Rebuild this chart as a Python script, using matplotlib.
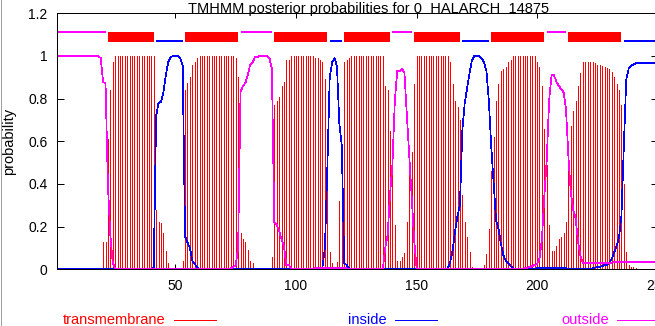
import matplotlib
matplotlib.use("Agg")
import numpy as np
import matplotlib.pyplot as plt
from matplotlib.lines import Line2D

plt.rcParams['font.family'] = ['Liberation Sans', 'DejaVu Sans']

title = "TMHMM posterior probabilities for 0  HALARCH  14875"
seq_len = 250

# posterior probabilities per residue 1..250
tm_prob = [
    0, 0, 0, 0, 0, 0, 0, 0, 0, 0,                                   # 1
    0, 0, 0, 0, 0, 0, 0, 0, 0.005, 0.13,                            # 11
    0.13, 0.61, 0.84, 0.97, 1.0, 1.0, 1.0, 1.0, 1.0, 1.0,           # 21
    1.0, 1.0, 1.0, 1.0, 1.0, 1.0, 1.0, 1.0, 1.0, 1.0,               # 31
    1.0, 0.28, 0.22, 0.215, 0.17, 0.086, 0.03, 0.005, 0, 0,         # 41
    0, 0.005, 0.04, 0.84, 0.875, 0.9, 0.96, 0.97, 0.99, 1.0,        # 51
    1.0, 1.0, 1.0, 1.0, 1.0, 1.0, 1.0, 1.0, 1.0, 1.0,               # 61
    1.0, 1.0, 1.0, 1.0, 0.99, 0.9, 0.17, 0.14, 0.127, 0.09,         # 71
    0.04, 0.03, 0.005, 0.005, 0, 0, 0, 0, 0.005, 0.06,              # 81
    0.77, 0.79, 0.81, 0.86, 0.88, 0.98, 0.98, 1.0, 1.0, 1.0,        # 91
    1.0, 1.0, 1.0, 1.0, 1.0, 1.0, 1.0, 0.99, 0.99, 0.98,            # 101
    0.97, 0.89, 0.53, 0.08, 0.03, 0.01, 0.036, 0.32, 0.42, 0.97,    # 111
    0.98, 0.99, 1.0, 1.0, 1.0, 1.0, 1.0, 1.0, 1.0, 1.0,             # 121
    1.0, 1.0, 1.0, 1.0, 1.0, 1.0, 0.86, 0.84, 0.65, 0.51,           # 131
    0.21, 0.04, 0.04, 0.06, 0.075, 0.22, 0.47, 0.55, 0.87, 1.0,     # 141
    1.0, 1.0, 1.0, 1.0, 1.0, 1.0, 1.0, 1.0, 1.0, 1.0,               # 151
    1.0, 1.0, 1.0, 0.97, 0.87, 0.79, 0.76, 0.7, 0.35, 0.22,         # 161
    0.15, 0.08, 0.01, 0, 0, 0, 0, 0.02, 0.07, 0.19,                 # 171
    0.46, 0.62, 0.79, 0.87, 0.93, 0.94, 0.95, 0.97, 0.98, 1.0,      # 181
    1.0, 1.0, 1.0, 1.0, 1.0, 1.0, 1.0, 1.0, 1.0, 0.97,              # 191
    0.95, 0.86, 0.66, 0.49, 0.21, 0.085, 0.085, 0.11, 0.14, 0.15,   # 201
    0.17, 0.22, 0.47, 0.67, 0.74, 0.79, 0.86, 0.92, 0.97, 0.97,     # 211
    0.97, 0.97, 0.97, 0.966, 0.96, 0.96, 0.955, 0.95, 0.945, 0.94,  # 221
    0.925, 0.9, 0.87, 0.84, 0.77, 0.4, 0.08, 0.02, 0.01, 0.01,      # 231
    0.005, 0, 0, 0, 0, 0, 0, 0, 0, 0,                               # 241
]

inside_prob = [
    0, 0, 0, 0, 0, 0, 0, 0, 0, 0,                                   # 1
    0, 0, 0, 0, 0, 0, 0, 0, 0, 0,                                   # 11
    0, 0, 0, 0, 0, 0, 0, 0, 0, 0,                                   # 21
    0, 0, 0, 0, 0, 0, 0, 0, 0, 0,                                   # 31
    0.01, 0.72, 0.78, 0.785, 0.83, 0.91, 0.97, 0.995, 1.0, 1.0,     # 41
    1.0, 0.99, 0.955, 0.155, 0.125, 0.1, 0.04, 0.025, 0.01, 0,      # 51
    0, 0, 0, 0, 0, 0, 0, 0, 0, 0,                                   # 61
    0, 0, 0, 0, 0, 0, 0, 0, 0, 0,                                   # 71
    0, 0, 0, 0, 0, 0, 0, 0, 0, 0,                                   # 81
    0, 0, 0, 0, 0, 0, 0, 0, 0, 0,                                   # 91
    0, 0, 0, 0, 0, 0, 0, 0, 0, 0,                                   # 101
    0.01, 0.1, 0.47, 0.9, 0.97, 0.99, 0.95, 0.68, 0.58, 0.03,       # 111
    0.02, 0.005, 0, 0, 0, 0, 0, 0, 0, 0,                            # 121
    0, 0, 0, 0, 0, 0, 0.004, 0.004, 0.004, 0.004,                   # 131
    0.004, 0.004, 0.004, 0.004, 0.004, 0.004, 0.004, 0.004, 0, 0,   # 141
    0, 0, 0, 0, 0, 0, 0, 0, 0, 0,                                   # 151
    0, 0, 0.005, 0.036, 0.09, 0.18, 0.25, 0.3, 0.65, 0.78,          # 161
    0.85, 0.92, 0.98, 1.0, 1.0, 1.0, 0.99, 0.97, 0.93, 0.79,        # 171
    0.575, 0.4, 0.23, 0.19, 0.12, 0.067, 0.04, 0.03, 0.015, 0.005,  # 181
    0, 0, 0, 0, 0, 0, 0, 0, 0, 0.005,                               # 191
    0.005, 0.005, 0.005, 0.005, 0.005, 0.005, 0.005, 0.005, 0.005, 0.005,  # 201
    0.005, 0.005, 0, 0, 0, 0, 0, 0, 0, 0,                           # 211
    0, 0, 0.005, 0.008, 0.01, 0.012, 0.015, 0.02, 0.02, 0.03,       # 221
    0.05, 0.08, 0.11, 0.15, 0.25, 0.58, 0.89, 0.94, 0.955, 0.96,    # 231
    0.966, 0.966, 0.966, 0.966, 0.966, 0.966, 0.966, 0.966, 0.966, 0.966,  # 241
]

outside_prob = [
    1.0, 1.0, 1.0, 1.0, 1.0, 1.0, 1.0, 1.0, 1.0, 1.0,               # 1
    1.0, 1.0, 1.0, 1.0, 1.0, 1.0, 1.0, 1.0, 0.99, 0.877,            # 11
    0.874, 0.39, 0.16, 0.03, 0.005, 0, 0, 0, 0, 0,                  # 21
    0, 0, 0, 0, 0, 0, 0, 0, 0, 0,                                   # 31
    0, 0, 0, 0, 0, 0, 0, 0, 0, 0,                                   # 41
    0, 0, 0, 0, 0, 0, 0, 0, 0, 0,                                   # 51
    0, 0, 0, 0, 0, 0, 0, 0, 0, 0,                                   # 61
    0, 0, 0.005, 0.01, 0.02, 0.1, 0.83, 0.86, 0.873, 0.91,          # 71
    0.96, 0.97, 0.995, 0.995, 1.0, 1.0, 1.0, 1.0, 0.99, 0.94,       # 81
    0.22, 0.21, 0.18, 0.14, 0.11, 0.02, 0.02, 0.005, 0, 0,          # 91
    0, 0, 0, 0, 0, 0, 0, 0.005, 0.005, 0.005,                       # 101
    0.005, 0.005, 0.005, 0.005, 0.005, 0.005, 0.005, 0.005, 0.005, 0.005,  # 111
    0.005, 0, 0, 0, 0, 0, 0, 0, 0, 0,                               # 121
    0, 0, 0, 0, 0, 0, 0.1, 0.16, 0.35, 0.49,                        # 131
    0.79, 0.93, 0.93, 0.94, 0.92, 0.72, 0.53, 0.34, 0.14, 0.01,     # 141
    0, 0, 0, 0, 0, 0, 0, 0, 0, 0,                                   # 151
    0, 0, 0, 0.004, 0.004, 0.004, 0.004, 0.004, 0.004, 0.004,       # 161
    0.004, 0.004, 0.004, 0.004, 0.004, 0.004, 0.004, 0.004, 0.004, 0,  # 171
    0, 0, 0, 0, 0, 0, 0, 0, 0, 0,                                   # 181
    0, 0, 0, 0, 0.005, 0.008, 0.01, 0.015, 0.02, 0.025,             # 191
    0.05, 0.14, 0.34, 0.51, 0.79, 0.91, 0.91, 0.88, 0.86, 0.845,    # 201
    0.83, 0.75, 0.53, 0.36, 0.28, 0.24, 0.13, 0.06, 0.03, 0.031,    # 211
    0.031, 0.031, 0.031, 0.031, 0.031, 0.031, 0.031, 0.031, 0.031, 0.031,  # 221
    0.031, 0.034, 0.034, 0.034, 0.034, 0.034, 0.034, 0.034, 0.034, 0.034,  # 231
    0.034, 0.034, 0.034, 0.034, 0.034, 0.034, 0.034, 0.034, 0.034, 0.034,  # 241
]

# most likely topology (bar above the curves)
seg_kind = ['outside', 'TMhelix', 'inside', 'TMhelix', 'outside', 'TMhelix',
            'inside', 'TMhelix', 'outside', 'TMhelix', 'inside', 'TMhelix',
            'outside', 'TMhelix', 'inside']
seg_start = [1, 22, 42, 54, 77, 91, 114, 120, 140, 149, 169, 181, 204, 213, 236]
seg_end = [21, 41, 53, 76, 90, 113, 119, 139, 148, 168, 180, 203, 212, 235, 250]

legend_labels = ['transmembrane', 'inside', 'outside']

RED = '#ff0000'
BLUE = '#0000ff'
MAG = '#ff00ff'
PX = 0.72   # one pixel in points at dpi 100
THIN = 0.5  # aliased line that lands on a single pixel

W, H = 655, 326
fig = plt.figure(figsize=(W / 100., H / 100.), dpi=100)
fig.patch.set_facecolor('white')

# axes box in pixels: left 57, top 13, bottom 269 (right edge falls off the image)
ax = fig.add_axes([57.3 / W, 1 - 269.3 / H, (657.6 - 57.3) / W, (269.3 - 13.3) / H])

res = np.arange(1, seq_len + 1)
ax.vlines(res, 0, tm_prob, colors=RED, linewidth=THIN, antialiased=False)
ax.plot(res, inside_prob, color=BLUE, lw=THIN, antialiased=False)
ax.plot(res, outside_prob, color=MAG, lw=THIN, antialiased=False)

style = {'TMhelix': (1.09, RED, 10 * PX),
         'inside': (1.07, BLUE, 2 * PX),
         'outside': (1.11, MAG, 2 * PX)}
for kind, s, e in zip(seg_kind, seg_start, seg_end):
    y, c, lw = style[kind]
    ax.plot([s, e], [y, y], color=c, lw=lw, solid_capstyle='butt', antialiased=False)

ax.set_xlim(1, seq_len)
ax.set_ylim(0, 1.2)
ax.set_xticks([50, 100, 150, 200, 250])
ax.set_yticks([0, 0.2, 0.4, 0.6, 0.8, 1.0, 1.2])
ax.set_yticklabels(['0', '0.2', '0.4', '0.6', '0.8', '1', '1.2'])
for sp in ax.spines.values():
    sp.set_linewidth(PX)
ax.tick_params(direction='in', top=True, right=True, width=PX, labelsize=10)
ax.tick_params(axis='x', length=5 * PX, pad=7)
ax.tick_params(axis='y', length=7 * PX, pad=7)

fig.text(369. / W, 1 - 12.5 / H, title, ha='center', va='baseline', fontsize=10.5)
fig.text(9. / W, 1 - 141. / H, 'probability', rotation=90, ha='center', va='center', fontsize=10.5)

# legend along the bottom: label, then a short line sample
leg_colors = [RED, BLUE, MAG]
text_right = [165.8, 386.4, 608.6]
for lab, c, xr in zip(legend_labels, leg_colors, text_right):
    fig.text(xr / W, 1 - 324. / H, lab, ha='right', va='baseline', color=c, fontsize=10.5)
    x0 = xr + 8.5
    fig.add_artist(Line2D([x0 / W, (x0 + 42) / W], [1 - 320. / H] * 2, color=c,
                          lw=PX, antialiased=False, transform=fig.transFigure))

# grey frame on left and bottom edge of the image
fig.add_artist(Line2D([0.5 / W, 0.5 / W], [0, 1], color='#a0a0a0', lw=PX,
                      antialiased=False, transform=fig.transFigure))
fig.add_artist(Line2D([0, 1], [0.5 / H, 0.5 / H], color='#a0a0a0', lw=PX,
                      antialiased=False, transform=fig.transFigure))

fig.savefig('out.png', dpi=100)
